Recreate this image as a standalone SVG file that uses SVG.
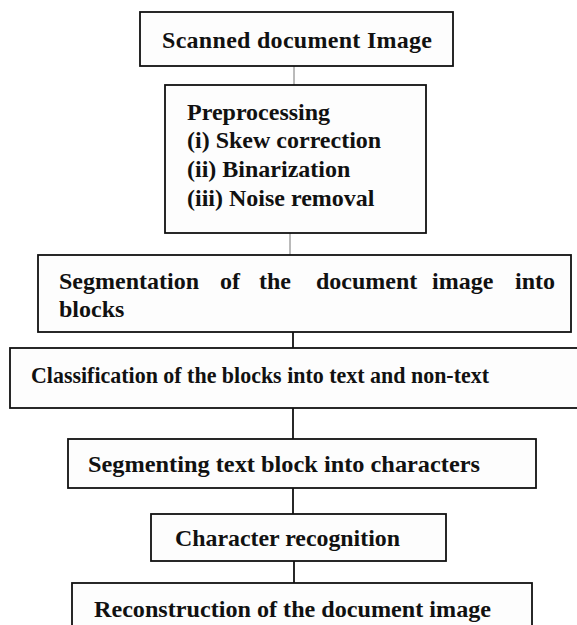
<svg xmlns="http://www.w3.org/2000/svg" width="577" height="625" viewBox="0 0 577 625">
<style>
.box{fill:#fdfdfd;stroke:#111;stroke-width:1.8}
.t{font-family:"Liberation Serif","Times New Roman",serif;font-weight:bold;font-size:24px;fill:#111}
.thin{stroke:#777;stroke-width:1;fill:none}
.thick{stroke:#111;stroke-width:1.8;fill:none}
</style>
<rect width="577" height="625" fill="#fff"/>
<g id="connectors">
<line class="thin" x1="294" y1="66" x2="294" y2="85"/>
<line class="thin" x1="290" y1="233" x2="290" y2="255"/>
<line class="thick" x1="293" y1="332" x2="293" y2="348"/>
<line class="thick" x1="293" y1="408" x2="293" y2="439"/>
<line class="thick" x1="293" y1="488" x2="293" y2="514"/>
<line class="thick" x1="294" y1="561" x2="294" y2="583"/>
<line class="thick" x1="290" y1="541" x2="289" y2="553"/>
</g>
<g id="n1">
<rect class="box" x="140" y="12" width="313" height="54"/>
<text class="t" x="162" y="48" textLength="270" lengthAdjust="spacing">Scanned document Image</text>
</g>
<g id="n2">
<rect class="box" x="165" y="85" width="261" height="148"/>
<text class="t" x="187" y="120">Preprocessing</text>
<text class="t" x="187" y="148">(i) Skew correction</text>
<text class="t" x="187" y="177">(ii) Binarization</text>
<text class="t" x="187" y="206">(iii) Noise removal</text>
</g>
<g id="n3">
<rect class="box" x="38" y="255" width="533" height="77"/>
<text class="t" y="289"><tspan x="59">Segmentation</tspan><tspan x="220">of</tspan><tspan x="259">the</tspan><tspan x="316">document</tspan><tspan x="432">image</tspan><tspan x="515">into</tspan></text>
<text class="t" x="59" y="317">blocks</text>
</g>
<g id="n4">
<rect class="box" x="10" y="348" width="580" height="60"/>
<text class="t" x="31" y="383" textLength="458" lengthAdjust="spacingAndGlyphs">Classification of the blocks into text and non-text</text>
</g>
<g id="n5">
<rect class="box" x="68" y="439" width="468" height="49"/>
<text class="t" x="88" y="472" textLength="392" lengthAdjust="spacingAndGlyphs">Segmenting text block into characters</text>
</g>
<g id="n6">
<rect class="box" x="151" y="514" width="295" height="47"/>
<text class="t" x="175" y="546" textLength="225" lengthAdjust="spacingAndGlyphs">Character recognition</text>
</g>
<g id="n7">
<rect class="box" x="72" y="583" width="460" height="60"/>
<text class="t" x="94" y="617" textLength="397" lengthAdjust="spacingAndGlyphs">Reconstruction of the document image</text>
</g>
</svg>
